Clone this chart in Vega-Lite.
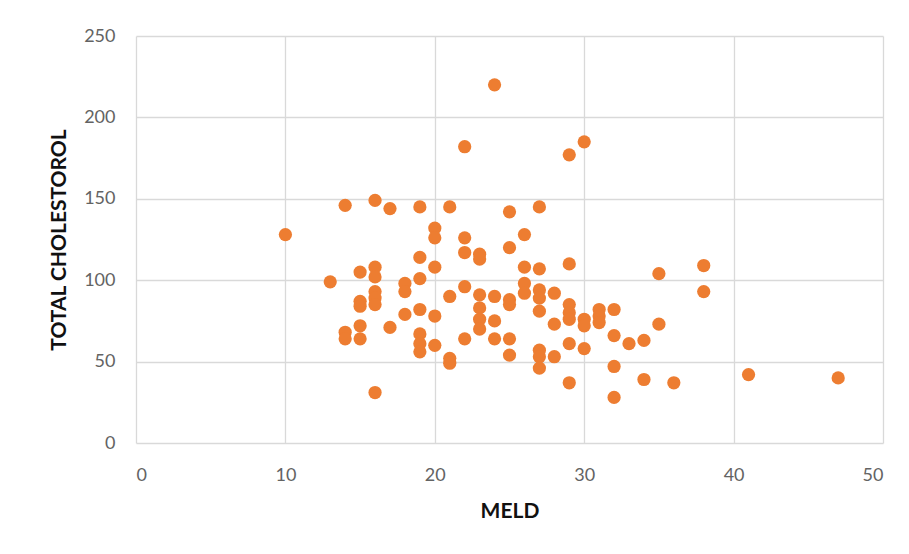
{
  "$schema": "https://vega.github.io/schema/vega-lite/v6.json",
  "width": 747,
  "height": 407,
  "autosize": {"type": "none"},
  "padding": {"left": 136, "top": 36, "right": 26, "bottom": 111},
  "background": "white",
  "config": {
    "view": {"stroke": null},
    "font": "Lato",
    "axis": {
      "grid": true,
      "gridColor": "#d9d9d9",
      "gridWidth": 1.3,
      "domain": false,
      "ticks": false,
      "labelColor": "#636363",
      "labelFont": "Lato",
      "labelFontSize": 18,
      "titleFont": "Lato",
      "titleFontWeight": "bold",
      "titleFontSize": 21,
      "titleColor": "#111111"
    }
  },
  "data": {
    "values": [
      {"meld": 10, "chol": 128},
      {"meld": 13, "chol": 99},
      {"meld": 14, "chol": 146}, {"meld": 14, "chol": 68}, {"meld": 14, "chol": 64},
      {"meld": 15, "chol": 105}, {"meld": 15, "chol": 87}, {"meld": 15, "chol": 84}, {"meld": 15, "chol": 72}, {"meld": 15, "chol": 64},
      {"meld": 16, "chol": 149}, {"meld": 16, "chol": 108}, {"meld": 16, "chol": 102}, {"meld": 16, "chol": 93}, {"meld": 16, "chol": 89}, {"meld": 16, "chol": 85}, {"meld": 16, "chol": 31},
      {"meld": 17, "chol": 144}, {"meld": 17, "chol": 71},
      {"meld": 18, "chol": 98}, {"meld": 18, "chol": 93}, {"meld": 18, "chol": 79},
      {"meld": 19, "chol": 145}, {"meld": 19, "chol": 114}, {"meld": 19, "chol": 101}, {"meld": 19, "chol": 82}, {"meld": 19, "chol": 67}, {"meld": 19, "chol": 61}, {"meld": 19, "chol": 56},
      {"meld": 20, "chol": 132}, {"meld": 20, "chol": 126}, {"meld": 20, "chol": 108}, {"meld": 20, "chol": 78}, {"meld": 20, "chol": 60},
      {"meld": 21, "chol": 145}, {"meld": 21, "chol": 90}, {"meld": 21, "chol": 52}, {"meld": 21, "chol": 49},
      {"meld": 22, "chol": 182}, {"meld": 22, "chol": 126}, {"meld": 22, "chol": 117}, {"meld": 22, "chol": 96}, {"meld": 22, "chol": 64},
      {"meld": 23, "chol": 116}, {"meld": 23, "chol": 113}, {"meld": 23, "chol": 91}, {"meld": 23, "chol": 83}, {"meld": 23, "chol": 76}, {"meld": 23, "chol": 70},
      {"meld": 24, "chol": 220}, {"meld": 24, "chol": 90}, {"meld": 24, "chol": 75}, {"meld": 24, "chol": 64},
      {"meld": 25, "chol": 142}, {"meld": 25, "chol": 120}, {"meld": 25, "chol": 88}, {"meld": 25, "chol": 85}, {"meld": 25, "chol": 64}, {"meld": 25, "chol": 54},
      {"meld": 26, "chol": 128}, {"meld": 26, "chol": 108}, {"meld": 26, "chol": 98}, {"meld": 26, "chol": 92},
      {"meld": 27, "chol": 145}, {"meld": 27, "chol": 107}, {"meld": 27, "chol": 94}, {"meld": 27, "chol": 89}, {"meld": 27, "chol": 81}, {"meld": 27, "chol": 57}, {"meld": 27, "chol": 53}, {"meld": 27, "chol": 46},
      {"meld": 28, "chol": 92}, {"meld": 28, "chol": 73}, {"meld": 28, "chol": 53},
      {"meld": 29, "chol": 177}, {"meld": 29, "chol": 110}, {"meld": 29, "chol": 85}, {"meld": 29, "chol": 80}, {"meld": 29, "chol": 76}, {"meld": 29, "chol": 61}, {"meld": 29, "chol": 37},
      {"meld": 30, "chol": 185}, {"meld": 30, "chol": 76}, {"meld": 30, "chol": 72}, {"meld": 30, "chol": 58},
      {"meld": 31, "chol": 82}, {"meld": 31, "chol": 78}, {"meld": 31, "chol": 74},
      {"meld": 32, "chol": 82}, {"meld": 32, "chol": 66}, {"meld": 32, "chol": 47}, {"meld": 32, "chol": 28},
      {"meld": 33, "chol": 61},
      {"meld": 34, "chol": 63}, {"meld": 34, "chol": 39},
      {"meld": 35, "chol": 104}, {"meld": 35, "chol": 73},
      {"meld": 36, "chol": 37},
      {"meld": 38, "chol": 109}, {"meld": 38, "chol": 93},
      {"meld": 41, "chol": 42},
      {"meld": 47, "chol": 40}
    ]
  },
  "mark": {"type": "point", "filled": true, "shape": "circle", "size": 175, "color": "#ED7D31", "opacity": 1},
  "encoding": {
    "x": {
      "field": "meld", "type": "quantitative", "title": "MELD",
      "scale": {"domain": [0, 50], "nice": false, "zero": true},
      "axis": {"values": [0, 10, 20, 30, 40, 50], "labelPadding": 23, "titlePadding": 16}
    },
    "y": {
      "field": "chol", "type": "quantitative", "title": "TOTAL CHOLESTOROL",
      "scale": {"domain": [0, 250], "nice": false},
      "axis": {"values": [0, 50, 100, 150, 200, 250], "labelPadding": 21, "titlePadding": 14}
    }
  }
}
